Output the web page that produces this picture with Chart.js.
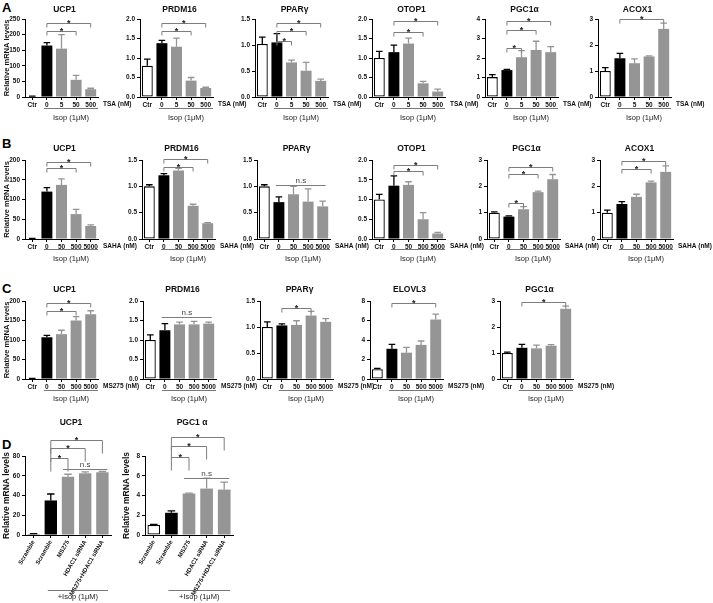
<!DOCTYPE html>
<html><head><meta charset="utf-8">
<script src="https://cdn.jsdelivr.net/npm/chart.js@4.4.0/dist/chart.umd.min.js"></script>
<style>
html,body{margin:0;padding:0;background:#fff;}
#fig{position:relative;width:713px;height:603px;overflow:hidden;background:#fff;}
#fig canvas{position:absolute;}
.rowlab{position:absolute;font-family:"Liberation Sans",Arial,sans-serif;font-weight:bold;font-size:13px;color:#000;line-height:1;}
</style></head><body><div id="fig"></div>
<script>
// ---------------- categories ----------------
const catsTSA  = ['Ctr','0','5','50','500'];
const catsSAHA = ['Ctr','0','50','500','5000'];
const catsMS   = ['Ctr','0','50','500','5000'];
const catsSi   = ['Scramble','Scramble','MS275','HDAC1 siRNA','MS275+HDAC1 siRNA'];

// ---------------- Row A (TSA) ----------------
const aUCP1 = [2,165,155,55,25];            const aUCP1Err = [1,9,45,14,3];
const aUCP1Ticks = ['0','50','100','150','200','250'];  const aUCP1Sig = [[1,3,213],[1,4,237]];
const aPRDM16 = [0.80,1.38,1.29,0.42,0.23]; const aPRDM16Err = [0.17,0.07,0.22,0.08,0.02];
const aPRDM16Ticks = ['0.0','0.5','1.0','1.5','2.0'];   const aPRDM16Sig = [[1,3,1.70],[1,4,1.90]];
const aPPARG = [1.02,1.05,0.665,0.505,0.31]; const aPPARGErr = [0.13,0.17,0.045,0.16,0.035];
const aPPARGTicks = ['0.0','0.5','1.0','1.5'];          const aPPARGSig = [[1,2,1.07],[1,3,1.26],[1,4,1.42]];
const aOTOP1 = [1.0,1.15,1.37,0.35,0.14];   const aOTOP1Err = [0.17,0.18,0.14,0.05,0.06];
const aOTOP1Ticks = ['0.0','0.5','1.0','1.5','2.0'];    const aOTOP1Sig = [[1,3,1.66],[1,4,1.96]];
const aPGC1A = [1.02,1.38,2.04,2.41,2.30];  const aPGC1AErr = [0.13,0.04,0.34,0.45,0.28];
const aPGC1ATicks = ['0','1','2','3','4'];              const aPGC1ASig = [[1,2,2.5],[1,3,3.43],[1,4,3.89]];
const aACOX1 = [1.0,1.49,1.30,1.56,2.62];   const aACOX1Err = [0.13,0.19,0.17,0.02,0.22];
const aACOX1Ticks = ['0','1','2','3'];                  const aACOX1Sig = [[1,4,2.99]];

// ---------------- Row B (SAHA) ----------------
const bUCP1 = [1,120,137,63,33];            const bUCP1Err = [0.5,10,15,12,3];
const bUCP1Ticks = ['0','50','100','150','200'];        const bUCP1Sig = [[1,3,180],[1,4,195]];
const bPRDM16 = [1.0,1.21,1.30,0.63,0.30];  const bPRDM16Err = [0.03,0.03,0.04,0.03,0.01];
const bPRDM16Ticks = ['0.0','0.5','1.0','1.5'];         const bPRDM16Sig = [[1,3,1.37],[1,4,1.52]];
const bPPARG = [1.0,0.70,0.85,0.71,0.62];   const bPPARGErr = [0.03,0.10,0.15,0.24,0.10];
const bPPARGTicks = ['0.0','0.5','1.0','1.5'];          const bPPARGNs = [[1,4,1.03]];
const bOTOP1 = [1.0,1.35,1.37,0.50,0.14];   const bOTOP1Err = [0.13,0.25,0.08,0.17,0.03];
const bOTOP1Ticks = ['0.0','0.5','1.0','1.5','2.0'];    const bOTOP1Sig = [[1,3,1.73],[1,4,1.88]];
const bPGC1A = [1.0,0.85,1.13,1.78,2.27];   const bPGC1AErr = [0.03,0.03,0.10,0.04,0.18];
const bPGC1ATicks = ['0','1','2','3'];                  const bPGC1ASig = [[1,2,1.35],[1,3,2.47],[1,4,2.75]];
const bACOX1 = [1.0,1.33,1.60,2.15,2.55];   const bACOX1Err = [0.10,0.09,0.10,0.05,0.23];
const bACOX1Ticks = ['0','1','2','3'];                  const bACOX1Sig = [[1,3,2.64],[1,4,2.95]];

// ---------------- Row C (MS275) ----------------
const cUCP1 = [1,107,115,150,166];          const cUCP1Err = [0.5,5,10,10,9];
const cUCP1Ticks = ['0','50','100','150','200'];        const cUCP1Sig = [[1,3,175],[1,4,194]];
const cPRDM16 = [1.0,1.25,1.40,1.40,1.42];  const cPRDM16Err = [0.13,0.17,0.06,0.08,0.04];
const cPRDM16Ticks = ['0.0','0.5','1.0','1.5','2.0'];   const cPRDM16Ns = [[1,4,1.6]];
const cPPARG = [1.0,1.03,1.04,1.22,1.10];   const cPPARGErr = [0.10,0.03,0.08,0.08,0.06];
const cPPARGTicks = ['0.0','0.5','1.0','1.5'];          const cPPARGSig = [[1,3,1.36]];
const cELOVL3 = [1.0,3.1,2.7,3.5,6.1];      const cELOVL3Err = [0.10,0.45,0.55,0.40,0.55];
const cELOVL3Ticks = ['0','2','4','6','8'];             const cELOVL3Sig = [[1,4,7.8]];
const cPGC1A = [1.0,1.2,1.18,1.28,2.7];     const cPGC1AErr = [0.03,0.13,0.12,0.04,0.10];
const cPGC1ATicks = ['0','1','2','3'];                  const cPGC1ASig = [[1,4,2.98]];

// ---------------- Row D (siRNA) ----------------
const dUCP1 = [1,35,59,62.5,63.5];          const dUCP1Err = [0.3,6.5,2.5,1.5,0.8];
const dUCP1Ticks = ['0','20','40','60','80'];           const dUCP1Sig = [[1,2,78],[1,3,88],[1,4,96]]; const dUCP1Ns = [[2,4,67]];
const dPGC1A = [1.03,2.25,4.2,4.7,4.6];     const dPGC1AErr = [0.05,0.2,0.05,1.05,0.75];
const dPGC1ATicks = ['0','2','4','6','8'];              const dPGC1ASig = [[1,2,7.85],[1,3,9.05],[1,4,9.9]]; const dPGC1ANs = [[2,4,5.8]];

// ---------------- panel assembly ----------------
const panels = [
 {row:'A',col:0,title:'UCP1',  cats:catsTSA,vals:aUCP1,  errs:aUCP1Err,  ticks:aUCP1Ticks,  sig:aUCP1Sig,  ns:[],dose:'TSA (nM)',isop:'Isop (1μM)'},
 {row:'A',col:1,title:'PRDM16',cats:catsTSA,vals:aPRDM16,errs:aPRDM16Err,ticks:aPRDM16Ticks,sig:aPRDM16Sig,ns:[],dose:'TSA (nM)',isop:'Isop (1μM)'},
 {row:'A',col:2,title:'PPARγ', cats:catsTSA,vals:aPPARG, errs:aPPARGErr, ticks:aPPARGTicks, sig:aPPARGSig, ns:[],dose:'TSA (nM)',isop:'Isop (1μM)'},
 {row:'A',col:3,title:'OTOP1', cats:catsTSA,vals:aOTOP1, errs:aOTOP1Err, ticks:aOTOP1Ticks, sig:aOTOP1Sig, ns:[],dose:'TSA (nM)',isop:'Isop (1μM)'},
 {row:'A',col:4,title:'PGC1α', cats:catsTSA,vals:aPGC1A, errs:aPGC1AErr, ticks:aPGC1ATicks, sig:aPGC1ASig, ns:[],dose:'TSA (nM)',isop:'Isop (1μM)'},
 {row:'A',col:5,title:'ACOX1', cats:catsTSA,vals:aACOX1, errs:aACOX1Err, ticks:aACOX1Ticks, sig:aACOX1Sig, ns:[],dose:'TSA (nM)',isop:'Isop (1μM)'},
 {row:'B',col:0,title:'UCP1',  cats:catsSAHA,vals:bUCP1,  errs:bUCP1Err,  ticks:bUCP1Ticks,  sig:bUCP1Sig,  ns:[],dose:'SAHA (nM)',isop:'Isop (1μM)'},
 {row:'B',col:1,title:'PRDM16',cats:catsSAHA,vals:bPRDM16,errs:bPRDM16Err,ticks:bPRDM16Ticks,sig:bPRDM16Sig,ns:[],dose:'SAHA (nM)',isop:'Isop (1μM)'},
 {row:'B',col:2,title:'PPARγ', cats:catsSAHA,vals:bPPARG, errs:bPPARGErr, ticks:bPPARGTicks, sig:[],ns:bPPARGNs,dose:'SAHA (nM)',isop:'Isop (1μM)'},
 {row:'B',col:3,title:'OTOP1', cats:catsSAHA,vals:bOTOP1, errs:bOTOP1Err, ticks:bOTOP1Ticks, sig:bOTOP1Sig, ns:[],dose:'SAHA (nM)',isop:'Isop (1μM)'},
 {row:'B',col:4,title:'PGC1α', cats:catsSAHA,vals:bPGC1A, errs:bPGC1AErr, ticks:bPGC1ATicks, sig:bPGC1ASig, ns:[],dose:'SAHA (nM)',isop:'Isop (1μM)'},
 {row:'B',col:5,title:'ACOX1', cats:catsSAHA,vals:bACOX1, errs:bACOX1Err, ticks:bACOX1Ticks, sig:bACOX1Sig, ns:[],dose:'SAHA (nM)',isop:'Isop (1μM)'},
 {row:'C',col:0,title:'UCP1',  cats:catsMS,vals:cUCP1,  errs:cUCP1Err,  ticks:cUCP1Ticks,  sig:cUCP1Sig,  ns:[],dose:'MS275 (nM)',isop:'Isop (1μM)'},
 {row:'C',col:1,title:'PRDM16',cats:catsMS,vals:cPRDM16,errs:cPRDM16Err,ticks:cPRDM16Ticks,sig:[],ns:cPRDM16Ns,dose:'MS275 (nM)',isop:'Isop (1μM)'},
 {row:'C',col:2,title:'PPARγ', cats:catsMS,vals:cPPARG, errs:cPPARGErr, ticks:cPPARGTicks, sig:cPPARGSig, ns:[],dose:'MS275 (nM)',isop:'Isop (1μM)'},
 {row:'C',col:3,title:'ELOVL3',cats:catsMS,vals:cELOVL3,errs:cELOVL3Err,ticks:cELOVL3Ticks,sig:cELOVL3Sig,ns:[],dose:'MS275 (nM)',isop:'Isop (1μM)'},
 {row:'C',col:4,title:'PGC1α', cats:catsMS,vals:cPGC1A, errs:cPGC1AErr, ticks:cPGC1ATicks, sig:cPGC1ASig, ns:[],dose:'MS275 (nM)',isop:'Isop (1μM)'},
 {row:'D',col:0,title:'UCP1',  cats:catsSi,vals:dUCP1,  errs:dUCP1Err,  ticks:dUCP1Ticks,  sig:dUCP1Sig,  ns:dUCP1Ns,dose:'',isop:'+Isop (1μM)'},
 {row:'D',col:1,title:'PGC1 α',cats:catsSi,vals:dPGC1A, errs:dPGC1AErr, ticks:dPGC1ATicks, sig:dPGC1ASig, ns:dPGC1ANs,dose:'',isop:'+Isop (1μM)'}
];

// ---------------- layout (styling only) ----------------
const FONT = '"Liberation Sans Narrow","Liberation Sans",Arial,sans-serif';
const GRAY = '#959595';
const rowGeo = {
 A:{top:19, bottom:97, lefts:[25,140,255,372,485,598], widths:[73,73,73,73,73,73], padT:20, padB:30, leg:4, yTitle:[0], ytSize:7.5, titleOff:9, isopLine:11, isopText:21, isopTrim:0, nsExt:3, rot:0, bw:0.75, xSize:6.5, letter:[2,1]},
 B:{top:160,bottom:239,lefts:[25,142,257,372,487,600], widths:[73,73,73,73,73,73], padT:20, padB:30, leg:4, yTitle:[0], ytSize:7.5, titleOff:11, isopLine:10, isopText:20, isopTrim:0, nsExt:3, rot:0, bw:0.75, xSize:6.5, letter:[2,137]},
 C:{top:301,bottom:379,lefts:[25,143,260,370,500], widths:[73,73,73,73,73], padT:20, padB:30, leg:4, yTitle:[0], ytSize:7.5, titleOff:11, isopLine:11, isopText:20, isopTrim:0, nsExt:3, rot:0, bw:0.75, xSize:6.5, letter:[2,282]},
 D:{top:456,bottom:535,lefts:[25,145], widths:[86,88], padT:40, padB:68, leg:13, yTitle:[0,1], ytSize:8.5, titleOff:33, isopLine:55, isopText:62, isopTrim:3, nsExt:5, rot:60, bw:0.72, xSize:6, letter:[2,438]}
};

const fig = document.getElementById('fig');
Chart.defaults.font.family = FONT;
Chart.defaults.color = '#111';

Object.keys(rowGeo).forEach(r=>{
  const d = document.createElement('div'); d.className='rowlab'; d.textContent=r;
  d.style.left = rowGeo[r].letter[0]+'px'; d.style.top = rowGeo[r].letter[1]+'px';
  fig.appendChild(d);
});

function makeAnnot(p, g){
  return {
    id:'annot',
    afterDatasetsDraw(chart){
      const {ctx, scales:{y:ys}} = chart;
      const meta = chart.getDatasetMeta(0);
      ctx.save();
      meta.data.forEach((bar,i)=>{
        const e = p.errs[i]; if(!e) return;
        const y0 = ys.getPixelForValue(p.vals[i]), y1 = ys.getPixelForValue(p.vals[i]+e);
        const cap = bar.width*0.3;
        ctx.strokeStyle = i<2 ? '#000' : GRAY; ctx.lineWidth = 1.3;
        ctx.beginPath(); ctx.moveTo(bar.x,y0); ctx.lineTo(bar.x,y1);
        ctx.moveTo(bar.x-cap,y1); ctx.lineTo(bar.x+cap,y1); ctx.stroke();
      });
      ctx.restore();
    },
    afterDraw(chart){
      const {ctx, chartArea:ca, scales:{x:xs,y:ys}} = chart;
      ctx.save();
      ctx.fillStyle='#111'; ctx.textAlign='center'; ctx.textBaseline='middle';
      ctx.font = `bold 8.5px ${FONT}`;
      ctx.fillText(p.title, (ca.left+ca.right)/2 + 3, ca.top - g.titleOff);
      if (p.dose){
        ctx.textAlign='left'; ctx.font = `bold 6.5px ${FONT}`;
        ctx.fillText(p.dose, ca.right+5, ca.bottom+7.5);
      }
      const lx0 = xs.getPixelForValue(1)-3, lx1 = ca.right - g.isopTrim;
      const ly = Math.round(ca.bottom + g.isopLine)+0.5;
      ctx.strokeStyle='#555'; ctx.lineWidth=0.8;
      ctx.beginPath(); ctx.moveTo(lx0,ly); ctx.lineTo(lx1,ly); ctx.stroke();
      ctx.font = `7.5px ${FONT}`; ctx.textAlign='center'; ctx.fillStyle='#222';
      ctx.fillText(p.isop, (lx0+lx1)/2, ca.bottom + g.isopText);
      ctx.strokeStyle='#7d7d7d'; ctx.lineWidth=1;
      p.sig.forEach(([a,b,v])=>{
        const xa = xs.getPixelForValue(a), xb = xs.getPixelForValue(b);
        const y = Math.round(ys.getPixelForValue(v))+0.5;
        ctx.beginPath(); ctx.moveTo(xa,y+g.leg); ctx.lineTo(xa,y); ctx.lineTo(xb,y); ctx.lineTo(xb,y+g.leg); ctx.stroke();
        ctx.fillStyle='#222'; ctx.font=`bold 9px ${FONT}`; ctx.textBaseline='alphabetic';
        ctx.fillText('*', (xa+xb)/2, y+2);
      });
      p.ns.forEach(([a,b,v])=>{
        const xa = xs.getPixelForValue(a)-g.nsExt, xb = xs.getPixelForValue(b)+g.nsExt;
        const y = Math.round(ys.getPixelForValue(v))+0.5;
        ctx.beginPath(); ctx.moveTo(xa,y); ctx.lineTo(xb,y); ctx.stroke();
        ctx.fillStyle='#444'; ctx.font=`8px ${FONT}`; ctx.textBaseline='alphabetic';
        ctx.fillText('n.s', (xa+xb)/2, y-3);
      });
      ctx.restore();
    }
  };
}

panels.forEach(p=>{
  const g = rowGeo[p.row];
  const padL = 25, padR = 52;
  const W = g.widths[p.col], H = g.bottom - g.top;
  const cw = padL + W + padR, ch = g.padT + H + g.padB;
  const cv = document.createElement('canvas');
  cv.width = cw; cv.height = ch;
  cv.style.width = cw+'px'; cv.style.height = ch+'px';
  cv.style.left = (g.lefts[p.col]-padL)+'px'; cv.style.top = (g.top-g.padT)+'px';
  fig.appendChild(cv);
  const colors = p.vals.map((v,i)=> i===0 ? '#ffffff' : (i===1 ? '#000000' : GRAY));
  const borders = p.vals.map((v,i)=> i===0 ? '#000000' : (i===1 ? '#000000' : GRAY));
  const bws = p.vals.map((v,i)=> i===0 ? 1.3 : 0);
  const tmax = parseFloat(p.ticks[p.ticks.length-1]), tstep = parseFloat(p.ticks[1]);
  const showYT = g.yTitle.includes(p.col);
  new Chart(cv, {
    type:'bar',
    data:{labels:p.cats, datasets:[{data:p.vals, backgroundColor:colors, borderColor:borders, borderWidth:bws, borderSkipped:false, barPercentage:g.bw, categoryPercentage:1}]},
    options:{
      responsive:false, animation:false, devicePixelRatio:1,
      layout:{padding:{left:0,right:padR,top:g.padT,bottom:0}},
      plugins:{legend:{display:false}, tooltip:{enabled:false}, title:{display:false}},
      scales:{
        x:{
          offset:true,
          grid:{display:true, drawOnChartArea:false, drawTicks:true, tickLength:3, offset:false, color:'#000'},
          border:{display:true, color:'#000', width:1},
          ticks:{font:{size:g.xSize, weight:'bold', family:FONT}, color:'#111', padding:1, autoSkip:false, minRotation:g.rot, maxRotation:g.rot},
          afterFit:(s)=>{ s.height = g.padB; s.paddingLeft = 0; s.paddingRight = 0; }
        },
        y:{
          min:0, max:tmax,
          grid:{display:true, drawOnChartArea:false, drawTicks:true, tickLength:3, color:'#000'},
          border:{display:true, color:'#000', width:1},
          ticks:{stepSize:tstep, font:{size:6.5, weight:'bold', family:FONT}, color:'#111', padding:2,
                 callback:(v,i)=> p.ticks[i]},
          title:{display:showYT, text:'Relative mRNA levels', font:{size:g.ytSize, weight:'bold', family:FONT}, color:'#111', padding:{top:2,bottom:0}},
          afterFit:(s)=>{ s.width = padL; }
        }
      }
    },
    plugins:[makeAnnot(p,g)]
  });
});
</script></body></html>
